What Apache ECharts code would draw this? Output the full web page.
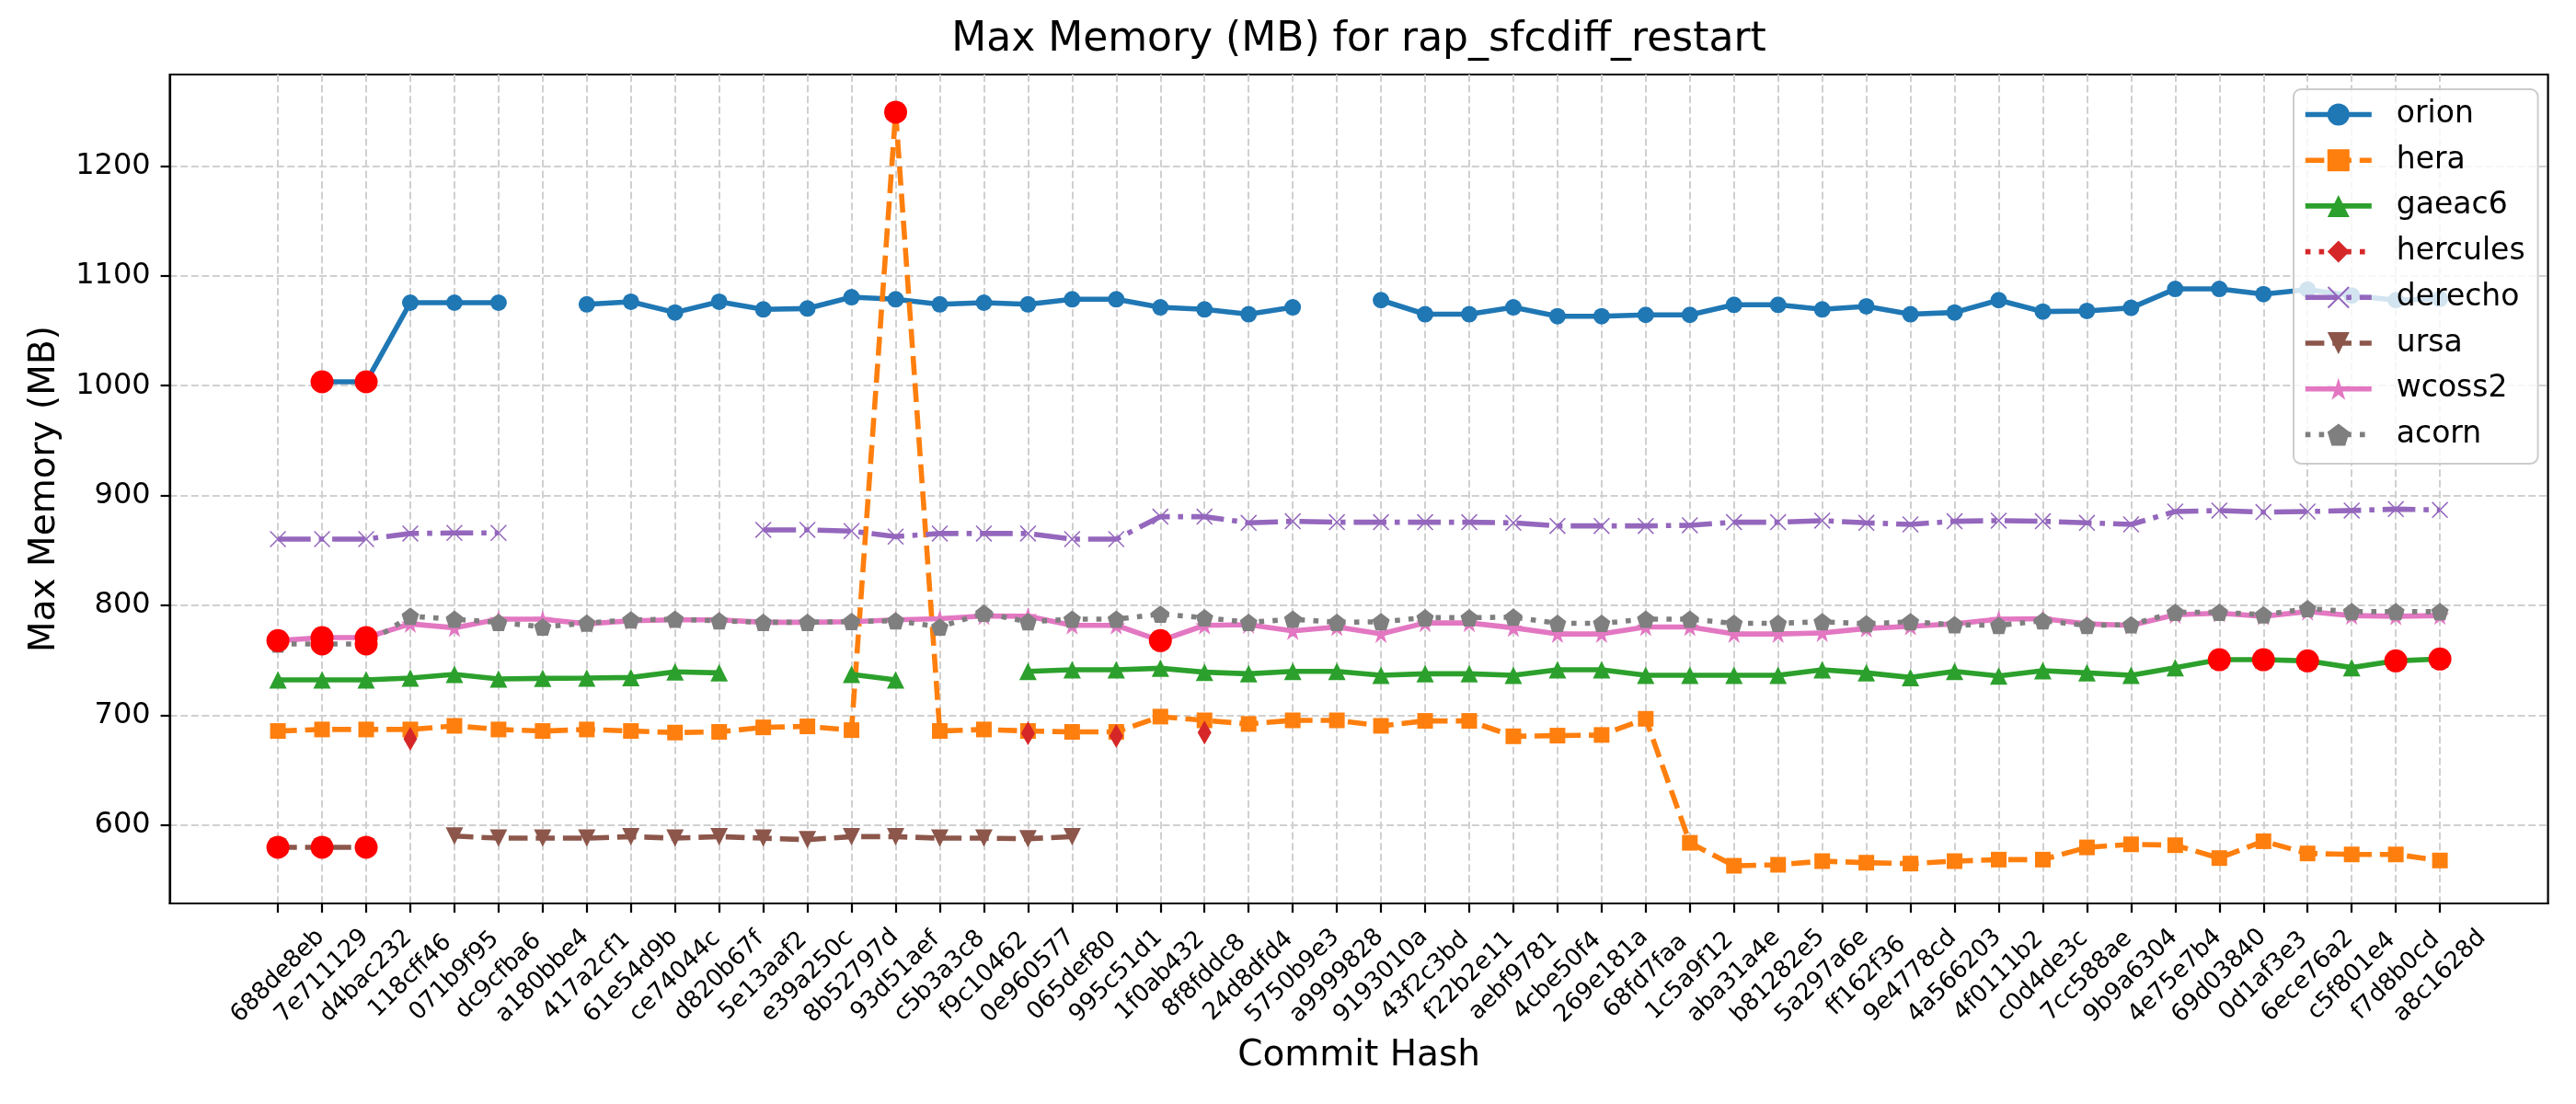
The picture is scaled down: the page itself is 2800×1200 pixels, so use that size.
<!DOCTYPE html>
<html>
<head>
<meta charset="utf-8">
<script src="https://cdn.jsdelivr.net/npm/echarts@6/dist/echarts.min.js"></script>
<style>
  html, body { margin: 0; padding: 0; background: #ffffff; }
  #chart { width: 2800px; height: 1200px; }
</style>
</head>
<body>
<div id="chart"></div>
<script>
const categories = ["688de8eb","7e711129","d4bac232","118cff46","071b9f95","dc9cfba6","a180bbe4","417a2cf1","61e54d9b","ce74044c","d820b67f","5e13aaf2","e39a250c","8b52797d","93d51aef","c5b3a3c8","f9c10462","0e960577","065def80","995c51d1","1f0ab432","8f8fddc8","24d8dfd4","5750b9e3","a9999828","9193010a","43f2c3bd","f22b2e11","aebf9781","4cbe50f4","269e181a","68fd7faa","1c5a9f12","aba31a4e","b81282e5","5a297a6e","ff162f36","9e4778cd","4a566203","4f0111b2","c0d4de3c","7cc588ae","9b9a6304","4e75e7b4","69d03840","0d1af3e3","6ece76a2","c5f801e4","f7d8b0cd","a8c1628d"];

const orion = [null,1003.5,1003.5,1075.5,1075.5,1075.5,null,1074,1076.4,1066.6,1076.4,1069.4,1070.2,1080.5,1078.6,1074,1075.5,1074,1078.6,1078.6,1071.3,1069.4,1065,1071.3,null,1077.8,1065,1065,1071.3,1063.2,1063.2,1064.4,1064.4,1073.6,1073.6,1069.4,1072.2,1065,1066.6,1077.8,1067.4,1068,1070.8,1088,1088,1083.3,1087.5,1082,1077.8,1079];
const hera = [685.8,687.2,687.2,687.2,690.5,687.2,685.8,687.2,685.8,684.4,685,689.1,690,686.6,1248.8,685.8,687.2,685.8,685,685,698.9,695.5,692.2,695.5,695.5,690.5,695,695,681,681.6,682.2,696.9,584.1,563.2,564.1,567.4,566,565.2,567.4,568.8,568.8,579.9,582.7,581.9,570.2,585.5,574.4,573.5,573.5,568];
const gaeac6 = [732.3,732.3,732.3,734,737.3,733.1,733.7,734,734.5,739.6,738.7,null,null,737.3,732.3,null,null,740,741.5,741.5,742.9,739.3,737.9,740,740,736.5,737.9,737.9,736.5,741.5,741.5,736.5,736.5,736.5,736.5,741.5,738.7,734.5,740,735.9,740.7,738.7,736.5,743.5,750.7,750.7,749.6,743.5,749.6,751.3];
const hercules = [null,null,null,678.8,null,null,null,null,null,null,null,null,null,null,null,null,null,683.8,null,681.3,null,684.4,null,null,null,null,null,null,null,null,null,null,null,null,null,null,null,null,null,null,null,null,null,null,null,null,null,null,null,null];
const derecho = [860.4,860.4,860.4,865.5,866,866,null,null,null,null,null,868.8,868.8,867.7,862.7,865.5,865.5,865.5,860.4,860.4,880.8,880.8,875.2,876.6,875.8,875.8,875.8,875.8,875.2,872.4,872.4,872.4,873,875.8,875.8,877.2,875.2,873.8,876.6,877.2,876.6,875.2,873.8,885.5,886.4,885,885.5,886.4,887.7,886.9];
const ursa = [580,580,580,null,590.2,588.3,588.3,588.3,589.7,588.3,589.7,588.3,586.9,589.7,589.7,588.3,588.3,587.8,589.7,null,null,null,null,null,null,null,null,null,null,null,null,null,null,null,null,null,null,null,null,null,null,null,null,null,null,null,null,null,null,null];
const wcoss2 = [768,770.8,770.8,783.3,779.7,787.5,787.5,783.3,786.1,786.9,786.9,784.7,784.7,785.2,786.9,788,790.5,790.2,781.9,781.9,768,781.9,782.5,776.9,780.5,774.1,784.1,784.1,779.7,774.1,774.1,780.5,780.5,774.1,774.1,775,779.1,781.1,783.3,787.5,788,783.3,781.9,791.6,793,790.2,794.4,790.8,790.2,790.8];
const acorn = [765,765,765,790.2,787.5,784.7,780.5,784.1,786.9,787.5,786.1,784.7,784.7,785.5,786.1,780.5,793,785.2,787.5,787.5,792.2,788.9,784.7,787.5,784.7,785.2,788.9,788.9,789.4,783.8,783.8,787.5,787.5,783.8,783.8,785.2,783.3,785.2,782.5,781.9,786.1,781.9,782.5,793.9,793.9,791.6,797.2,794.4,794.4,794.4];

// indices of points marked with a red dot
const orionFlag = [1, 2];
const heraFlag = [14];
const gaeac6Flag = [44, 45, 46, 48, 49];
const ursaFlag = [0, 1, 2];
const wcoss2Flag = [0, 1, 2, 20];
const acornFlag = [1, 2];

const yTicks = [600, 700, 800, 900, 1000, 1100, 1200];
const xTicks = categories.map((c, i) => i);

const FONT = 'DejaVu Sans';
const LW = 5.6;

const allVals = [orion, hera, gaeac6, hercules, derecho, ursa, wcoss2, acorn].flat().filter(v => v != null);
const dMin = Math.min(...allVals), dMax = Math.max(...allVals);
const yPad = 0.05 * (dMax - dMin);
const xPad = 0.05 * (categories.length - 1);

const toData = arr => arr.map((v, i) => [i, v == null ? '-' : v]);

const X_PATH = 'path://M6,0 L50,44 L94,0 L100,6 L56,50 L100,94 L94,100 L50,56 L6,100 L0,94 L44,50 L0,6 Z';
const STAR_PATH = 'path://M50,0 L61.17,34.63 L97.55,34.55 L68.07,55.87 L79.39,90.45 L50,69 L20.61,90.45 L31.93,55.87 L2.45,34.55 L38.83,34.63 Z';
const PENT_PATH = 'path://M50,0 L97.6,34.5 L79.4,90.5 L20.6,90.5 L2.4,34.5 Z';

function lineSeries(name, arr, color, symbol, size, dash, extra) {
  return Object.assign({
    name: name,
    type: 'line',
    data: toData(arr),
    symbol: symbol,
    symbolSize: size,
    showSymbol: true,
    showAllSymbol: true,
    connectNulls: false,
    itemStyle: { color: color, opacity: 1 },
    lineStyle: { color: color, width: LW, type: dash },
    emphasis: { disabled: true },
    z: 2
  }, extra || {});
}

const flagged = []
  .concat(orionFlag.map(i => [i, orion[i]]))
  .concat(heraFlag.map(i => [i, hera[i]]))
  .concat(gaeac6Flag.map(i => [i, gaeac6[i]]))
  .concat(ursaFlag.map(i => [i, ursa[i]]))
  .concat(wcoss2Flag.map(i => [i, wcoss2[i]]))
  .concat(acornFlag.map(i => [i, acorn[i]]));

const gridLine = { color: '#d0d0d0', width: 2, type: [8, 3.6] };

const chart = echarts.init(document.getElementById('chart'), null, { renderer: 'canvas' });
chart.setOption({
  animation: false,
  backgroundColor: '#ffffff',
  textStyle: { fontFamily: FONT },
  title: {
    text: 'Max Memory (MB) for rap_sfcdiff_restart',
    left: 1477,
    textAlign: 'center',
    top: 22,
    padding: 0,
    textStyle: { fontFamily: FONT, fontSize: 44, fontWeight: 'normal', color: '#000' }
  },
  legend: {
    data: ['orion', 'hera', 'gaeac6', 'hercules', 'derecho', 'ursa', 'wcoss2', 'acorn'],
    orient: 'vertical',
    left: 2493,
    top: 97,
    padding: [11, 14, 15, 10],
    itemWidth: 72,
    itemHeight: 30,
    itemGap: 16.7,
    selectedMode: false,
    backgroundColor: 'rgba(255,255,255,0.8)',
    borderColor: '#cccccc',
    borderWidth: 2,
    borderRadius: 8,
    lineStyle: { width: LW },
    itemStyle: { opacity: 1 },
    textStyle: { fontFamily: FONT, fontSize: 33, color: '#000', lineHeight: 33, padding: [0, 0, 0, 22] }
  },
  grid: {
    left: 184.6, right: 30.4, top: 81, bottom: 218,
    show: true, borderColor: '#000', borderWidth: 2.2, backgroundColor: 'transparent',
    containLabel: false, outerBoundsMode: 'none'
  },
  xAxis: {
    type: 'value',
    min: -xPad,
    max: categories.length - 1 + xPad,
    name: 'Commit Hash',
    nameLocation: 'middle',
    nameGap: 146,
    nameTextStyle: { fontFamily: FONT, fontSize: 39, color: '#000' },
    axisLine: { show: true, onZero: false, lineStyle: { color: '#000', width: 2.2 } },
    axisTick: { show: true, customValues: xTicks, length: 10, lineStyle: { color: '#000', width: 2.2 } },
    axisLabel: {
      customValues: xTicks,
      formatter: v => categories[Math.round(v)],
      rotate: 45,
      align: 'center',
      verticalAlign: 'middle',
      margin: 79,
      fontFamily: FONT,
      fontSize: 26,
      color: '#000'
    },
    splitLine: { show: true, lineStyle: gridLine }
  },
  yAxis: {
    type: 'value',
    min: dMin - yPad,
    max: dMax + yPad,
    name: 'Max Memory (MB)',
    nameLocation: 'middle',
    nameGap: 116,
    nameTextStyle: { fontFamily: FONT, fontSize: 39, color: '#000' },
    axisLine: { show: true, onZero: false, lineStyle: { color: '#000', width: 2.2 } },
    axisTick: { show: true, customValues: yTicks, length: 10, lineStyle: { color: '#000', width: 2.2 } },
    axisLabel: { customValues: yTicks, formatter: v => String(Math.round(v)), fontFamily: FONT, fontSize: 32, color: '#000', margin: 21 },
    splitLine: { show: true, lineStyle: gridLine }
  },
  series: [
    lineSeries('orion', orion, '#1f77b4', 'circle', 18, 'solid'),
    lineSeries('hera', hera, '#ff7f0e', 'rect', 17, [20.6, 8.9]),
    lineSeries('gaeac6', gaeac6, '#2ca02c', 'triangle', 19, 'solid'),
    lineSeries('hercules', hercules, '#d62728', 'diamond', [15, 26], [5.6, 9.2]),
    lineSeries('derecho', derecho, '#9467bd', X_PATH, 18, [35.6, 8.9, 5.6, 8.9]),
    lineSeries('ursa', ursa, '#8c564b', 'triangle', 19, [20.6, 8.9], { symbolRotate: 180 }),
    lineSeries('wcoss2', wcoss2, '#e377c2', STAR_PATH, 20, 'solid'),
    lineSeries('acorn', acorn, '#7f7f7f', PENT_PATH, 19, [5.6, 9.2]),
    {
      name: 'flagged',
      type: 'scatter',
      data: flagged,
      symbol: 'circle',
      symbolSize: 25,
      itemStyle: { color: '#ff0000', opacity: 1 },
      emphasis: { disabled: true },
      silent: true,
      z: 3
    }
  ]
});
</script>
</body>
</html>
